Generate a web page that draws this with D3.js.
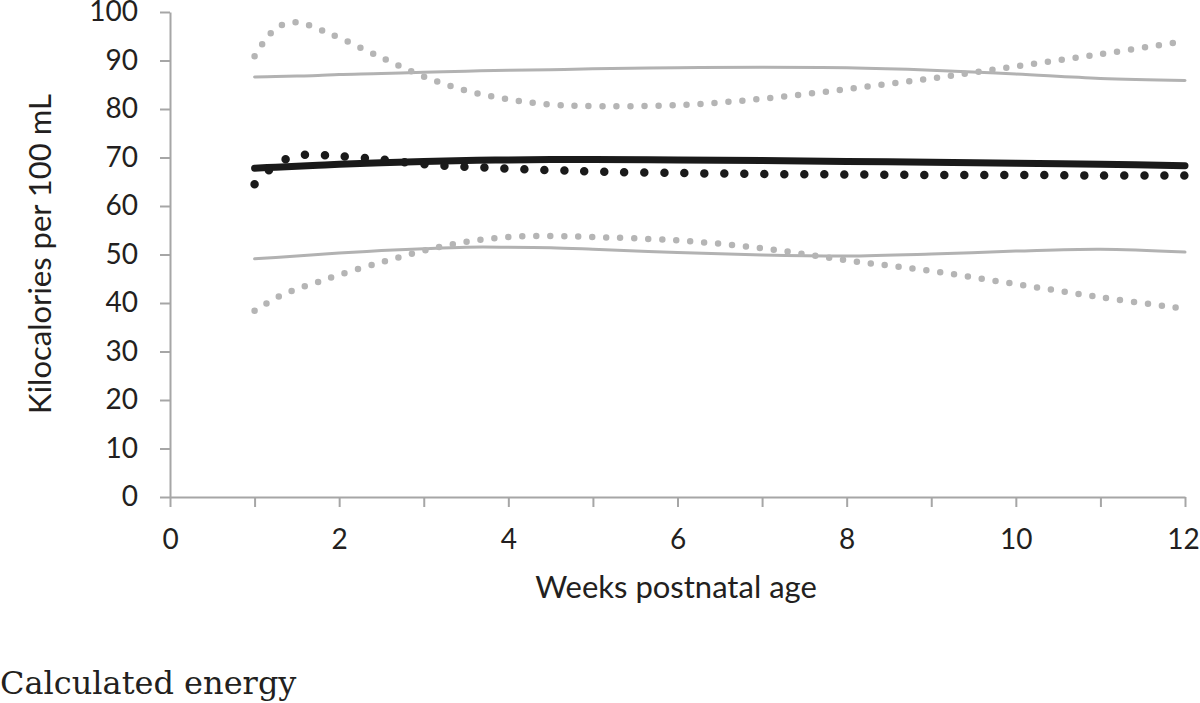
<!DOCTYPE html>
<html>
<head>
<meta charset="utf-8">
<script src="https://cdn.jsdelivr.net/npm/d3@7"></script>
<style>
    body { margin: 0; background: #fff; }
    svg { display: block; }
    .axis path, .axis line { stroke: #a6a6a6; stroke-width: 2; }
    .axis text { font-family: Lato, "Open Sans", sans-serif; font-size: 28px; fill: #231f20; }
    .label { font-family: Lato, "Open Sans", sans-serif; font-size: 31px; fill: #231f20; }
    .caption { font-family: "DejaVu Serif", serif; font-size: 32px; fill: #231f20; }
</style>
</head>
<body>
<svg width="1200" height="703"></svg>
<script>
// weeks postnatal age at which each curve was read
const weeks = [1, 1.25, 1.5, 1.75, 2, 2.5, 3, 3.5, 4, 4.5, 5, 6, 7, 8, 9, 10, 11, 12];

// kilocalories per 100 mL
const upperSolid = [86.6, 86.7, 86.8, 86.9, 87.1, 87.3, 87.6, 87.8, 88.0, 88.1, 88.3, 88.5, 88.6, 88.5, 88.0, 87.2, 86.3, 85.9];
const upperDotted = [90.9, 96.6, 97.9, 96.5, 94.7, 90.6, 86.7, 83.8, 82.0, 80.9, 80.6, 80.8, 82.1, 84.1, 86.3, 88.8, 91.3, 94.0];
const meanSolid = [67.8, 68.0, 68.2, 68.4, 68.6, 68.9, 69.2, 69.4, 69.5, 69.6, 69.6, 69.5, 69.4, 69.2, 69.0, 68.8, 68.6, 68.3];
const meanDotted = [64.5, 68.5, 70.4, 70.5, 70.3, 69.6, 68.6, 68.1, 67.7, 67.4, 67.1, 66.8, 66.6, 66.5, 66.4, 66.4, 66.3, 66.3];
const lowerSolid = [49.1, 49.4, 49.7, 50.0, 50.3, 50.8, 51.2, 51.5, 51.5, 51.4, 51.1, 50.4, 49.9, 49.7, 50.1, 50.7, 51.1, 50.5];
const lowerDotted = [38.4, 41.0, 42.9, 44.3, 45.8, 48.4, 50.8, 52.6, 53.6, 53.8, 53.6, 52.9, 51.3, 48.8, 46.6, 43.9, 41.2, 38.8];

const xTicks = [0, 1, 2, 3, 4, 5, 6, 7, 8, 9, 10, 11, 12];
const yTicks = [0, 10, 20, 30, 40, 50, 60, 70, 80, 90, 100];

const series = [
    {values: upperSolid, cls: 'gray-solid'},
    {values: lowerSolid, cls: 'gray-solid'},
    {values: upperDotted, cls: 'gray-dot'},
    {values: lowerDotted, cls: 'gray-dot'},
    {values: meanSolid, cls: 'black-solid'},
    {values: meanDotted, cls: 'black-dot'}
];

const styles = {
    'gray-solid': {stroke: '#b2b2b2', width: 3, dash: null},
    'gray-dot': {stroke: '#b5b5b5', width: 6.5, dash: '0 14'},
    'black-solid': {stroke: '#1a1a1a', width: 7, dash: null},
    'black-dot': {stroke: '#1a1a1a', width: 8.5, dash: '0 20'}
};

const svg = d3.select('svg');

const xScale = d3.scaleLinear()
    .domain([0, 12])
    .range([170, 1185]);

const yScale = d3.scaleLinear()
    .domain([0, 100])
    .range([497, 12]);

const xAxis = svg.append('g')
    .attr('class', 'axis')
    .attr('transform', `translate(0, ${yScale(0)})`)
    .call(d3.axisBottom(xScale)
        .tickValues(xTicks)
        .tickSize(10)
        .tickSizeOuter(0)
        .tickPadding(22)
        .tickFormat(d => d % 2 === 0 ? d : ''));

// keep the last label inside the page
xAxis.selectAll('.tick text')
    .filter(d => d === 12)
    .attr('dx', -2);

svg.append('g')
    .attr('class', 'axis')
    .attr('transform', `translate(${xScale(0)}, 0)`)
    .call(d3.axisLeft(yScale)
        .tickValues(yTicks)
        .tickSize(10)
        .tickSizeOuter(0)
        .tickPadding(22));

const line = d3.line()
    .x((d, i) => xScale(weeks[i]))
    .y(d => yScale(d))
    .curve(d3.curveCatmullRom.alpha(0.5));

svg.selectAll('.series')
    .data(series)
    .enter()
    .append('path')
    .attr('class', 'series')
    .attr('fill', 'none')
    .attr('stroke', s => styles[s.cls].stroke)
    .attr('stroke-width', s => styles[s.cls].width)
    .attr('stroke-linecap', 'round')
    .attr('stroke-dasharray', s => styles[s.cls].dash)
    .attr('d', s => line(s.values));

svg.append('text')
    .attr('class', 'label')
    .attr('x', 676)
    .attr('y', 598)
    .attr('text-anchor', 'middle')
    .text('Weeks postnatal age');

svg.append('text')
    .attr('class', 'label')
    .attr('transform', 'translate(51, 254) rotate(-90)')
    .attr('text-anchor', 'middle')
    .text('Kilocalories per 100 mL');

svg.append('text')
    .attr('class', 'caption')
    .attr('x', 0)
    .attr('y', 694)
    .text('Calculated energy');
</script>
</body>
</html>
